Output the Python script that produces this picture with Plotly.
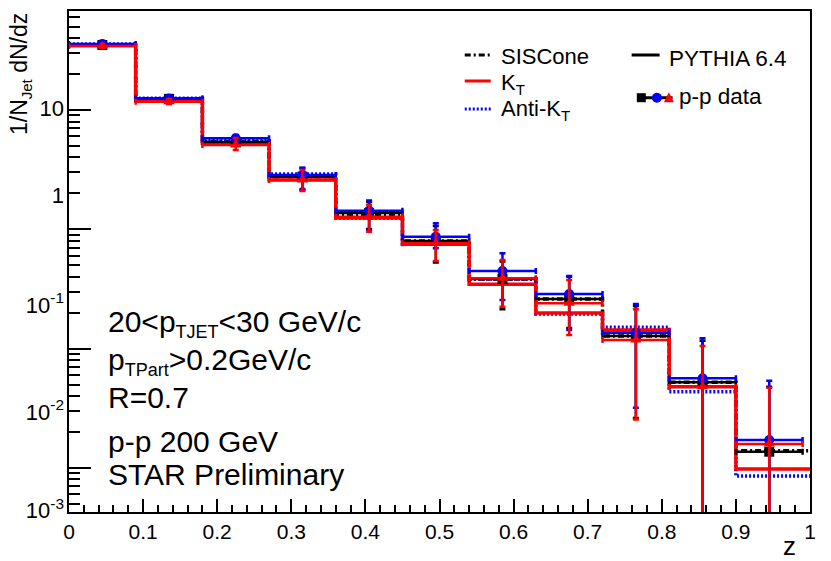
import math
import plotly.graph_objects as go

# ---------------- data ----------------
bin_edges = [0.0, 0.09, 0.18, 0.27, 0.36, 0.45, 0.54, 0.63, 0.72, 0.81, 0.90, 1.0]
z_centers = [0.045, 0.135, 0.225, 0.315, 0.405, 0.495, 0.585, 0.675, 0.765, 0.855, 0.945]
z_halfwidth = [0.045] * 11

# PYTHIA 6.4 histograms
pythia_siscone = [35.1, 12.4, 5.44, 2.76, 1.32, 0.798, 0.383, 0.260, 0.1275, 0.0522, 0.0139]
pythia_kt = [34.7, 11.97, 5.26, 2.59, 1.244, 0.749, 0.346, 0.199, 0.1432, 0.0479, 0.00979]
pythia_antikt = [35.7, 12.53, 5.53, 2.91, 1.244, 0.749, 0.383, 0.195, 0.1509, 0.0435, 0.00855]

# p-p data
data_siscone = [35.1, 12.4, 5.39, 2.76, 1.37, 0.798, 0.383, 0.260, 0.1275, 0.0522, 0.01367]
data_siscone_up = [1.3, 0.48, 0.55, 0.51, 0.324, 0.268, 0.153, 0.141, 0.100, 0.0643, 0.0342]
data_siscone_dn = [1.4, 0.47, 0.30, 0.625, 0.364, 0.272, 0.169, 0.111, 0.1013, 0.0522, 0.01367]

data_antikt = [35.7, 12.5, 5.79, 2.85, 1.43, 0.867, 0.447, 0.287, 0.136, 0.0564, 0.01714]
data_antikt_up = [1.5, 0.6, 0.38, 0.43, 0.31, 0.256, 0.182, 0.119, 0.1005, 0.0656, 0.0367]
data_antikt_dn = [1.3, 0.5, 0.40, 0.67, 0.44, 0.174, 0.192, 0.144, 0.104, 0.0564, 0.01714]

data_kt = [34.4, 11.74, 5.09, 2.59, 1.275, 0.763, 0.388, 0.240, 0.118, 0.0479, 0.01586]
data_kt_up = [1.3, 0.63, 0.74, 0.55, 0.324, 0.224, 0.165, 0.136, 0.0956, 0.0572, 0.0311]
data_kt_dn = [1.3, 0.51, 0.47, 0.495, 0.32, 0.221, 0.1635, 0.110, 0.0925, 0.0479, 0.01586]

x_tick_vals = [0.0, 0.1, 0.2, 0.3, 0.4, 0.5, 0.6, 0.7, 0.8, 0.9, 1.0]
x_tick_text = ["0", "0.1", "0.2", "0.3", "0.4", "0.5", "0.6", "0.7", "0.8", "0.9", "1"]
y_major_ticks = [0.01, 0.1, 1, 10]
y_label_vals = [10.39, 1.939, 0.232, 0.02942, 0.00438]
y_label_text = ["10", "1", "10<sup>-1</sup>", "10<sup>-2</sup>", "10<sup>-3</sup>"]

y_range = [-2.3697, 1.8298]

FONT = "Liberation Sans, Arial, sans-serif"
BLACK = "#000000"
RED = "#ff0000"
BLUE = "#0000ff"

fig = go.Figure()


def hist_trace(vals, color, dash, width):
    return go.Scatter(
        x=bin_edges, y=vals + [vals[-1]], mode="lines",
        line=dict(shape="hv", color=color, dash=dash, width=width),
        hoverinfo="skip", showlegend=False,
    )


fig.add_trace(hist_trace(pythia_siscone, BLACK, "6px,3px,2px,3px", 3.5))
fig.add_trace(hist_trace(pythia_antikt, BLUE, "2px,2px", 3.5))
fig.add_trace(hist_trace(pythia_kt, RED, "solid", 3.5))


def data_trace(vals, up, dn, color, symbol, yaxis="y"):
    return go.Scatter(
        x=z_centers, y=vals, mode="markers", yaxis=yaxis,
        marker=dict(color=color, symbol=symbol, size=10, line=dict(width=0)),
        error_x=dict(type="data", array=z_halfwidth, color=color, thickness=2.5, width=3),
        error_y=dict(type="data", array=up, arrayminus=dn, color=color, thickness=2.5, width=3),
        showlegend=False,
    )


fig.add_trace(data_trace(data_siscone, data_siscone_up, data_siscone_dn, BLACK, "square"))
fig.add_trace(data_trace(data_antikt, data_antikt_up, data_antikt_dn, BLUE, "circle"))
# top-most series drawn on the identical overlay axis that carries the tick labels
fig.add_trace(data_trace(data_kt, data_kt_up, data_kt_dn, RED, "triangle-up", yaxis="y2"))

# minor tick positions on log axis
y_minor = []
for k in range(-3, 2):
    for m in range(2, 10):
        v = m * 10 ** k
        if y_range[0] < math.log10(v) < y_range[1]:
            y_minor.append(v)

# ---------------- layout helpers (pixel -> paper) ----------------
L, R, T, B = 69, 810.5, 11, 512
PW, PH = R - L, B - T


def px(xp):
    return (xp - L) / PW


def py(yp):
    return (B - yp) / PH


shapes = []
annotations = []


def legend_line(x0, x1, y, color, dash):
    shapes.append(dict(type="line", xref="paper", yref="paper",
                       x0=px(x0), x1=px(x1), y0=py(y), y1=py(y),
                       line=dict(color=color, width=3, dash=dash)))


def text(x, y, s, size, anchor="left"):
    annotations.append(dict(xref="paper", yref="paper", x=px(x), y=py(y), text=s,
                            showarrow=False, xanchor=anchor, yanchor="middle",
                            font=dict(size=size, color=BLACK, family=FONT)))


def sub(s, size):
    return "<sub><span style='font-size:%dpx'>%s</span></sub>" % (size, s)


# legend
legend_line(465, 490, 55, BLACK, "6px,3px,2px,3px")
legend_line(465, 491, 81, RED, "solid")
legend_line(465, 491, 109, BLUE, "2px,2px")
legend_line(632, 660, 55, BLACK, "solid")
legend_line(640, 673, 97.7, BLACK, "solid")
sx, cx, tx, my, h = 641.7, 657.3, 669.3, 97.7, 4.5
shapes.append(dict(type="rect", xref="paper", yref="paper", x0=px(sx - h), x1=px(sx + h),
                   y0=py(my + h), y1=py(my - h), fillcolor=BLACK, line=dict(width=0)))
shapes.append(dict(type="circle", xref="paper", yref="paper", x0=px(cx - h - 0.5), x1=px(cx + h + 0.5),
                   y0=py(my + h + 0.5), y1=py(my - h - 0.5), fillcolor=BLUE, line=dict(width=0)))
shapes.append(dict(type="path", xref="paper", yref="paper",
                   path="M %f %f L %f %f L %f %f Z" % (px(tx - 5), py(my + 4.5), px(tx + 5), py(my + 4.5),
                                                     px(tx), py(my - 5.5)),
                   fillcolor=RED, line=dict(width=0)))

text(499, 57, "SISCone", 22)
text(499, 84, "K" + sub("T", 15), 22)
text(499, 110, "Anti-K" + sub("T", 15), 22)
text(667.5, 58.3, "PYTHIA 6.4", 22.5)
text(677.5, 96.7, "p-p data", 22.5)

# info text block
text(106, 323, "20<p" + sub("TJET", 18) + "<30 GeV/c", 30)
text(106, 361, "p" + sub("TPart", 18) + ">0.2GeV/c", 30)
text(106, 397, "R=0.7", 30)
text(106, 441, "p-p 200 GeV", 30)
text(106, 474, "STAR Preliminary", 30)

# axis titles
annotations.append(dict(xref="paper", yref="paper", x=px(20), y=py(74),
                        text="1/N" + sub("Jet", 15) + " dN/dz",
                        textangle=-90, showarrow=False, xanchor="center", yanchor="middle",
                        font=dict(size=23, color=BLACK, family=FONT)))
text(790, 546, "z", 26, anchor="center")

fig.update_layout(
    width=831, height=561,
    margin=dict(l=L, r=831 - R, t=T, b=561 - B, autoexpand=False),
    plot_bgcolor="white", paper_bgcolor="white",
    showlegend=False,
    font=dict(family=FONT, color=BLACK),
    shapes=shapes, annotations=annotations,
    xaxis=dict(range=[0, 1], tickmode="array", tickvals=x_tick_vals, ticktext=x_tick_text,
               ticks="inside", ticklen=13, tickwidth=1.5, tickcolor=BLACK,
               showline=True, linewidth=2, linecolor=BLACK, mirror=True,
               showgrid=False, zeroline=False, tickfont=dict(size=21, family=FONT),
               minor=dict(dtick=0.02, tick0=0, ticks="inside", ticklen=7, tickwidth=1.5,
                          tickcolor=BLACK, showgrid=False)),
    yaxis=dict(type="log", range=y_range, tickmode="array", tickvals=y_major_ticks,
               showticklabels=False, ticks="inside", ticklen=22, tickwidth=1.5, tickcolor=BLACK,
               showline=True, linewidth=2, linecolor=BLACK, mirror=True,
               showgrid=False, zeroline=False,
               minor=dict(tickmode="array", tickvals=y_minor, ticks="inside", ticklen=11,
                          tickwidth=1.5, tickcolor=BLACK, showgrid=False)),
    yaxis2=dict(type="log", range=y_range, overlaying="y", side="left", anchor="x",
                tickmode="array", tickvals=y_label_vals, ticktext=y_label_text,
                ticks="", showline=False, showgrid=False, zeroline=False,
                ticklabelstandoff=4,
                tickfont=dict(size=22, family=FONT)),
)

fig.write_html("out.html", config={"displayModeBar": False},
               post_script="document.body.style.margin='0px';")
